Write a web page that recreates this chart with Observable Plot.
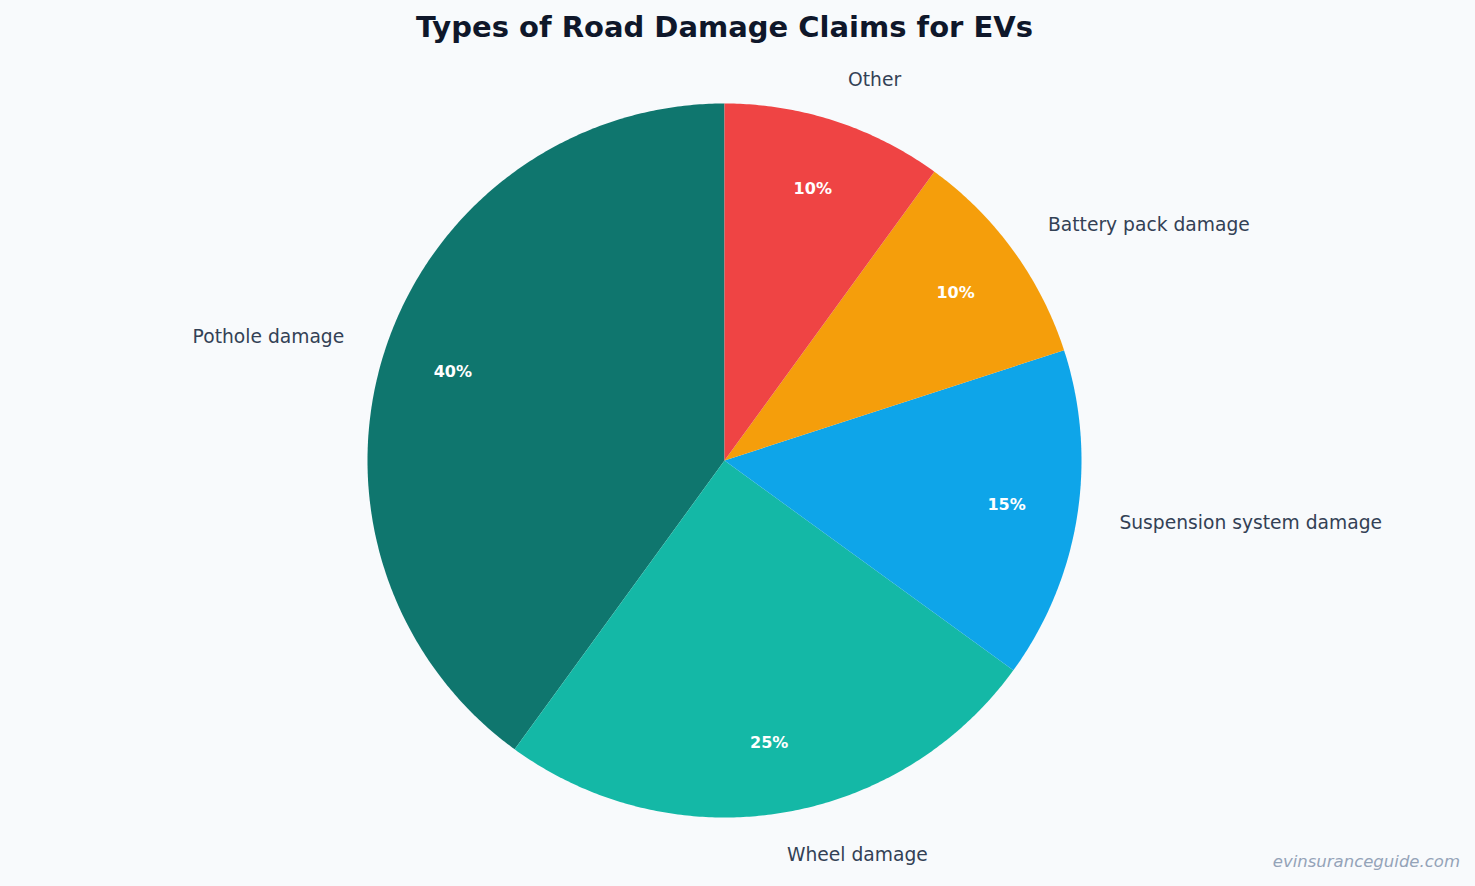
<!DOCTYPE html>
<html>
<head>
<meta charset="utf-8">
<script src="https://cdn.jsdelivr.net/npm/d3@7"></script>
<script src="https://cdn.jsdelivr.net/npm/@observablehq/plot@0.6"></script>
<style>
  html, body { margin: 0; padding: 0; background: #f8fafc; width: 1475px; height: 886px; overflow: hidden; font-family: "DejaVu Sans", sans-serif; }
  #title { width: 1449px; height: 55px; line-height: 55px; text-align: center; font-weight: bold; font-size: 29px; color: #0f172a; }
  #wm { position: absolute; right: 15px; top: 852px; font-style: italic; font-size: 16.5px; color: #94a3b8; }
  svg { display: block; }
</style>
</head>
<body>
<div id="title">Types of Road Damage Claims for EVs</div>
<div id="chart"></div>
<div id="wm">evinsuranceguide.com</div>
<script>
const categories = ["Pothole damage", "Wheel damage", "Suspension system damage", "Battery pack damage", "Other"];
const values = [40, 25, 15, 10, 10];
const colors = ["#0f766e", "#14b8a6", "#0ea5e9", "#f59e0b", "#ef4444"];

const table = categories.map((c, i) => ({label: c, value: values[i]}));
const arcs = d3.pie().value(d => d.value).sort(null).startAngle(0).endAngle(-2 * Math.PI)(table);
const total = d3.sum(values);

// slice outlines (geometry of each arc, computed from pie angles)
const outline = [];
for (const a of arcs) {
  const lo = Math.min(a.startAngle, a.endAngle), hi = Math.max(a.startAngle, a.endAngle);
  const n = Math.max(8, Math.ceil((hi - lo) / (Math.PI / 360)));
  outline.push({label: a.data.label, x: 0, y: 0});
  for (let k = 0; k <= n; k++) {
    const t = lo + (hi - lo) * k / n;
    outline.push({label: a.data.label, x: Math.sin(t), y: Math.cos(t)});
  }
}
const mids = arcs.map(a => {
  const m = (a.startAngle + a.endAngle) / 2;
  return {label: a.data.label, pct: Math.round(a.data.value / total * 100) + "%", s: Math.sin(m), c: Math.cos(m)};
});

const plot = Plot.plot({
  width: 1475,
  height: 831,
  marginLeft: 367, marginRight: 394, marginTop: 48, marginBottom: 69,
  x: {domain: [-1, 1], axis: null},
  y: {domain: [-1, 1], axis: null},
  color: {domain: categories, range: colors},
  style: {background: "transparent", fontFamily: "DejaVu Sans, sans-serif", overflow: "visible"},
  marks: [
    Plot.line(outline, {x: "x", y: "y", z: "label", fill: "label", stroke: "none", curve: "linear-closed"}),
    Plot.text(mids, {x: d => 0.8 * d.s, y: d => 0.8 * d.c, text: "pct", fill: "white", fontWeight: "bold", fontSize: 16}),
    Plot.text(mids.filter(d => d.s >= 0), {x: d => 1.12 * d.s, y: d => 1.12 * d.c, text: "label", fill: "#334155", fontSize: 18.7, textAnchor: "start"}),
    Plot.text(mids.filter(d => d.s < 0), {x: d => 1.12 * d.s, y: d => 1.12 * d.c, text: "label", fill: "#334155", fontSize: 18.7, textAnchor: "end"})
  ]
});
document.getElementById("chart").appendChild(plot);
</script>
</body>
</html>
